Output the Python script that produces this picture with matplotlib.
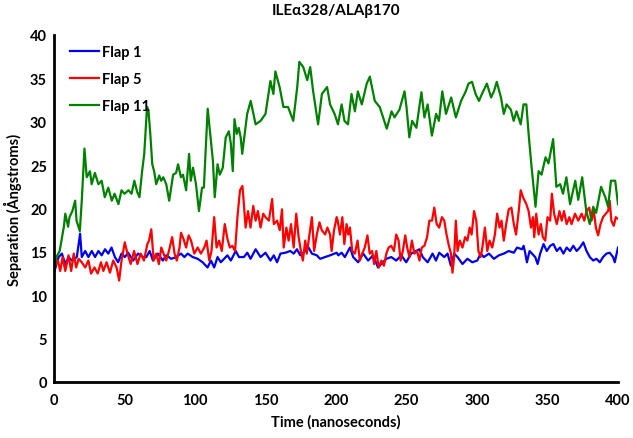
import matplotlib.pyplot as plt

plt.rcParams['font.family'] = ['Lato', 'DejaVu Sans']
plt.rcParams['font.weight'] = 'bold'

# Flap 1 (blue)
t_flap1 = [0, 3.3, 5.6, 8.0, 10.3, 12.7, 16.2, 18.5, 19.7, 22.1, 24.4, 26.8, 29.1, 31.5,
           33.8, 36.2, 38.5, 40.8, 43.2, 45.5, 47.9, 50.2, 52.6, 56.1, 59.6, 63.1, 65.5,
           67.8, 70.2, 73.7, 77.2, 79.6, 83.1, 86.6, 90.1, 92.5, 94.8, 98.4, 101.9, 105.4,
           108.9, 111.3, 113.6, 116.0, 118.3, 120.7, 123.0, 125.4, 128.9, 131.2, 134.7,
           137.1, 139.4, 143.0, 146.5, 150.0, 153.5, 155.9, 158.2, 160.6, 164.1, 167.6,
           170.0, 172.3, 174.7, 178.2, 180.5, 182.9, 186.4, 188.7, 192.3, 195.8, 200.5,
           201.6, 204.0, 206.3, 209.9, 212.2, 215.7, 219.3, 222.8, 226.3, 229.8, 232.2,
           235.7, 239.2, 242.7, 246.3, 249.8, 253.3, 256.8, 259.2, 261.5, 265.0, 268.5,
           270.9, 273.2, 276.8, 279.1, 281.5, 283.8, 286.2, 289.7, 293.2, 296.7, 300.2,
           302.6, 304.9, 308.5, 312.0, 315.5, 319.0, 322.5, 326.1, 328.4, 331.9, 333.1,
           334.3, 335.4, 337.3, 339.0, 341.3, 343.0, 344.8, 347.2, 349.5, 351.9, 354.2,
           356.6, 358.9, 361.3, 363.6, 366.0, 368.3, 370.7, 373.0, 375.4, 377.7, 380.0,
           382.4, 384.7, 387.1, 389.4, 391.8, 394.1, 396.5, 397.7, 400.0]
v_flap1 = [12.6, 14.4, 14.8, 13.6, 14.4, 14.0, 14.4, 17.1, 14.4, 15.1, 14.4, 15.1, 14.4, 15.1,
           14.6, 15.3, 14.8, 15.5, 14.4, 13.8, 14.8, 14.4, 14.9, 14.0, 14.8, 14.4, 14.4,
           15.1, 14.0, 14.8, 14.0, 14.6, 14.2, 14.4, 14.8, 14.4, 14.8, 14.4, 14.2, 13.8,
           13.2, 14.0, 13.2, 14.4, 13.8, 14.2, 14.6, 14.0, 15.1, 14.4, 14.4,
           14.9, 14.2, 15.3, 14.4, 14.9, 14.0, 14.6, 13.8, 14.8, 14.9, 15.1,
           14.8, 15.3, 14.6, 15.1, 15.5, 14.8, 14.6, 14.2, 14.4, 14.6, 14.9,
           14.6, 14.9, 14.4, 15.5, 14.4, 13.8, 14.8, 14.0, 14.6, 13.2, 13.6,
           14.2, 14.4, 14.0, 14.6, 13.8, 14.8, 15.1, 15.3, 14.4, 13.8, 14.8,
           14.0, 14.9, 14.4, 14.8, 13.4, 14.8, 14.4, 13.6, 14.2, 13.8, 14.0,
           14.8, 14.4, 14.8, 14.2, 14.6, 14.8, 15.1, 14.9, 15.5, 15.3, 15.7,
           14.8, 13.8, 15.1, 14.8, 14.4, 13.6, 14.8, 15.9, 15.1, 15.7, 15.9,
           15.1, 15.5, 14.8, 15.5, 15.1, 15.7, 15.1, 15.5, 16.1, 15.1, 14.4,
           14.0, 14.2, 13.8, 14.4, 14.8, 14.9, 14.4, 13.8, 15.5]

# Flap 5 (red)
t_flap5 = [0, 2.8, 4.4, 6.1, 8.0, 10.3, 12.2, 14.0, 15.7, 17.5, 19.7, 22.1, 24.4, 26.3,
           28.7, 31.0, 33.3, 35.0, 37.3, 39.7, 42.0, 44.4, 46.2, 47.9, 50.2, 52.1, 54.4,
           56.8, 59.2, 61.5, 63.8, 66.2, 67.4, 69.0, 70.7, 72.5, 74.4, 76.1, 77.7, 79.6,
           81.5, 83.8, 85.5, 87.1, 89.0, 90.1, 91.8, 93.7, 95.5, 97.2, 99.5, 101.9, 104.2,
           106.6, 108.2, 110.1, 111.7, 113.6, 115.3, 117.1, 119.0, 121.1, 123.0, 124.7,
           126.5, 128.4, 130.1, 131.9, 133.6, 134.3, 135.9, 137.6, 139.4, 141.3, 143.0,
           144.6, 146.5, 148.4, 150.0, 152.4, 154.7, 155.9, 158.2, 160.1, 161.7, 162.9,
           164.8, 166.4, 168.1, 170.0, 171.8, 173.5, 175.1, 176.5, 178.2, 179.3, 181.2,
           182.9, 184.5, 186.4, 188.3, 189.9, 192.3, 193.9, 195.8, 196.9, 198.6, 200.5,
           201.2, 202.8, 204.5, 205.9, 207.5, 208.7, 209.9, 211.5, 213.4, 215.3, 216.9,
           218.6, 220.4, 222.3, 223.9, 225.6, 227.0, 228.6, 230.3, 232.2, 234.0, 235.7,
           237.3, 239.2, 241.1, 242.7, 244.4, 245.8, 247.4, 249.1, 250.5, 252.1, 253.8,
           255.6, 257.5, 259.2, 260.8, 262.7, 264.6, 266.2, 268.1, 269.7, 271.4, 273.2,
           275.1, 276.8, 278.4, 279.8, 281.5, 282.6, 283.8, 285.0, 286.2, 287.8, 289.7,
           291.6, 293.2, 294.8, 296.2, 297.9, 299.5, 301.0, 302.6, 303.8, 305.6, 307.3,
           308.9, 310.8, 312.7, 314.3, 316.0, 317.4, 319.0, 320.7, 322.5, 324.4, 326.1,
           327.7, 329.6, 331.0, 332.6, 335.0, 336.6, 338.3, 339.7, 340.6, 342.0, 343.7,
           345.3, 346.7, 348.4, 350.0, 351.9, 353.1, 354.7, 356.6, 358.5, 360.1, 361.7,
           363.6, 365.5, 367.1, 369.5, 371.8, 374.2, 376.1, 377.7, 379.6, 381.2, 382.9,
           384.3, 385.9, 387.6, 389.4, 391.3, 393.0, 394.1, 395.3, 397.0, 398.4, 400.0]
v_flap5 = [13.2, 14.0, 12.8, 14.4, 12.8, 14.6, 12.8, 14.8, 13.2, 14.2, 13.8, 13.2, 14.0, 12.5,
           13.2, 12.5, 13.8, 12.8, 13.8, 12.6, 14.0, 13.2, 11.7, 14.0, 16.1, 14.8, 13.6,
           15.1, 13.6, 14.8, 14.0, 15.9, 16.3, 17.6, 14.0, 14.8, 13.6, 15.5, 14.8, 14.0,
           15.1, 16.7, 14.8, 14.0, 15.5, 17.2, 16.5, 15.5, 16.9, 16.3, 14.8, 15.5, 14.8,
           15.5, 16.3, 14.0, 15.1, 19.0, 15.5, 16.3, 15.1, 18.2, 16.5, 15.5,
           15.7, 15.1, 19.0, 22.1, 22.6, 21.3, 17.8, 19.7, 17.8, 20.3, 18.6,
           19.7, 17.8, 19.4, 19.0, 18.6, 21.1, 18.2, 18.6, 17.5, 19.9, 15.5,
           17.8, 16.3, 18.2, 15.5, 19.4, 16.7, 15.1, 14.0, 16.3, 14.8, 17.0,
           19.0, 15.1, 17.0, 18.4, 17.5, 17.0, 17.8, 17.0, 15.1, 17.5, 19.0,
           18.6, 17.0, 19.0, 15.9, 18.2, 17.0, 17.8, 15.1, 14.8, 16.3, 14.0,
           14.8, 15.5, 16.9, 14.8, 15.1, 13.6, 15.1, 13.2, 14.0, 13.4, 14.8,
           15.5, 15.7, 15.1, 17.0, 16.3, 14.0, 15.1, 16.9, 15.5, 14.4, 16.3,
           14.8, 15.1, 14.0, 15.5, 15.7, 16.7, 18.6, 18.6, 20.1, 18.2, 17.8,
           19.0, 18.6, 17.0, 15.9, 14.8, 12.6, 14.4, 18.6, 15.1, 16.3, 15.5,
           16.7, 16.3, 17.8, 17.0, 19.7, 18.6, 15.1, 14.4, 15.5, 17.8, 15.1,
           16.3, 15.5, 17.0, 19.4, 17.8, 18.6, 16.3, 18.2, 19.9, 20.1, 18.2,
           17.0, 19.7, 22.1, 21.3, 20.5, 19.7, 17.8, 19.0, 16.7, 19.4, 17.0,
           18.2, 16.7, 16.3, 19.0, 18.6, 21.7, 19.4, 18.2, 19.7, 18.6, 19.7,
           18.2, 19.0, 18.2, 19.4, 18.6, 19.4, 18.6, 19.7, 20.1, 18.6, 19.7,
           17.8, 16.9, 18.2, 19.0, 19.4, 19.7, 20.9, 18.6, 18.0, 19.0, 18.8]

# Flap 11 (green)
t_flap11 = [0, 2, 4, 7, 8, 10, 11, 13, 15, 16, 18.3, 19.7, 21.6, 23.2, 25.5, 26.7, 29, 31.5,
            33.8, 36, 38.5, 41, 43, 45.7, 47.9, 50, 52.8, 55, 57, 59, 60.6, 62.5, 64, 66,
            67, 68.3, 69.7, 71, 72.5, 74.6, 76, 77.5, 79.6, 81.7, 84.5, 86.6, 88, 90, 91.5,
            93.7, 95.8, 97, 98.6, 100.7, 102.8, 105, 106.3, 109, 111, 112.7, 114, 116, 117.6,
            119.7, 121.8, 124, 125.4, 126.8, 128, 129.6, 131, 132.4, 133.5, 137, 139.5, 143,
            146.5, 150, 153.5, 155.6, 157, 160, 162.7, 166, 169.7, 172.5, 174, 176.8, 179.6,
            181.7, 183.8, 187.3, 190, 193.7, 195.8, 199, 201.4, 204, 206, 208.5, 211, 213.4,
            215.5, 218.3, 221.8, 224, 227.5, 231, 236, 239.4, 241.5, 245, 248.6, 250, 252,
            254, 257, 260.6, 262.7, 265, 268, 271, 273, 275.4, 278, 281.7, 285, 288.7, 292,
            294, 296.5, 299, 301.4, 303.5, 307, 310, 312, 314, 317, 319, 321, 324, 326, 328,
            331, 333, 335, 336.6, 338.7, 341.5, 343.7, 345.8, 348.6, 350.7, 354, 356.3, 359,
            361, 363.4, 366, 369.7, 371.8, 374.6, 377.5, 380, 382.4, 384.5, 388, 391, 393,
            395, 398, 400]
v_flap11 = [13.0, 14.5, 15.1, 17.9, 19.4, 17.9, 19.0, 19.7, 20.9, 18.6, 17.4, 20.9, 26.9, 23.6,
            24.3, 22.8, 24.1, 22.8, 23.2, 21.3, 22.4, 20.9, 21.7, 20.5, 22.1, 21.7, 22.1,
            21.7, 23.2, 21.9, 21.3, 24.3, 26.3, 31.7, 31.3, 28.6, 25.1, 24.3, 22.8, 23.8,
            23.2, 23.6, 22.8, 20.9, 23.9, 24.1, 25.1, 23.6, 23.9, 22.1, 26.3, 23.2, 24.7,
            22.8, 19.7, 22.4, 22.4, 31.5, 28.2, 25.5, 21.3, 25.1, 23.9, 24.7, 28.2, 28.9,
            27.5, 24.3, 30.3, 28.6, 29.3, 28.2, 26.3, 30.9, 32.4, 29.7, 30.1, 30.9, 34.7,
            33.2, 35.8, 34.0, 31.7, 31.7, 30.1, 34.0, 36.9, 36.3, 34.8, 36.3, 33.5, 29.7,
            33.2, 34.0, 32.0, 30.9, 29.7, 32.0, 30.1, 29.7, 33.2, 31.2, 33.5, 32.0, 34.4,
            35.2, 32.4, 31.7, 29.2, 31.2, 30.5, 31.4, 33.5, 31.7, 28.2, 30.1, 29.3, 33.4,
            30.5, 32.0, 28.4, 30.9, 30.1, 33.5, 30.9, 32.8, 30.5, 32.4, 33.5, 34.4, 34.6,
            33.2, 32.4, 33.2, 34.4, 32.8, 33.5, 34.6, 32.8, 30.9, 32.0, 31.4, 30.1, 31.2,
            29.7, 32.0, 32.0, 28.6, 24.8, 20.2, 24.3, 23.9, 25.9, 25.2, 28.0, 22.5, 22.8,
            21.7, 23.6, 20.5, 23.2, 21.0, 23.6, 19.7, 18.2, 20.2, 19.5, 22.5, 21.3, 20.2,
            23.2, 23.2, 20.5]

x_ticks = [0, 50, 100, 150, 200, 250, 300, 350, 400]
y_ticks = [0, 5, 10, 15, 20, 25, 30, 35, 40]

fig = plt.figure(figsize=(6.33, 4.39), dpi=100)
# axes box in figure fractions: spines at x=54..618 px, y=36..383 px
ax = fig.add_axes([0.0853, 0.1276, 0.8910, 0.7904])

ax.plot(t_flap1, v_flap1, color='#0000ee', lw=1.6, label='Flap 1')
ax.plot(t_flap5, v_flap5, color='#ff0000', lw=1.6, label='Flap 5')
ax.plot(t_flap11, v_flap11, color='#008000', lw=1.6, label='Flap 11')

ax.set_xlim(0, 400)
ax.set_ylim(0, 40)
ax.set_xticks(x_ticks)
ax.set_yticks(y_ticks)
ax.tick_params(axis='x', length=0, labelsize=10.5, pad=8)
ax.tick_params(axis='y', length=0, labelsize=10.5, pad=5)
for s in ['top', 'right']:
    ax.spines[s].set_visible(False)
for s in ['left', 'bottom']:
    ax.spines[s].set_linewidth(2)

ax.set_title('ILEα328/ALAβ170', fontsize=11, fontweight='bold', pad=15)
ax.set_xlabel('Time (nanoseconds)', fontsize=10.5, fontweight='bold', labelpad=5)
ax.set_ylabel('Separation (Ångstroms)', fontsize=10.5, fontweight='bold', labelpad=6)

leg = ax.legend(loc='upper left', bbox_to_anchor=(0.005, 1.01), frameon=False,
                fontsize=10.5, handlelength=2.0, handletextpad=0.2, labelspacing=0.9)

fig.savefig('out.png', dpi=100)
